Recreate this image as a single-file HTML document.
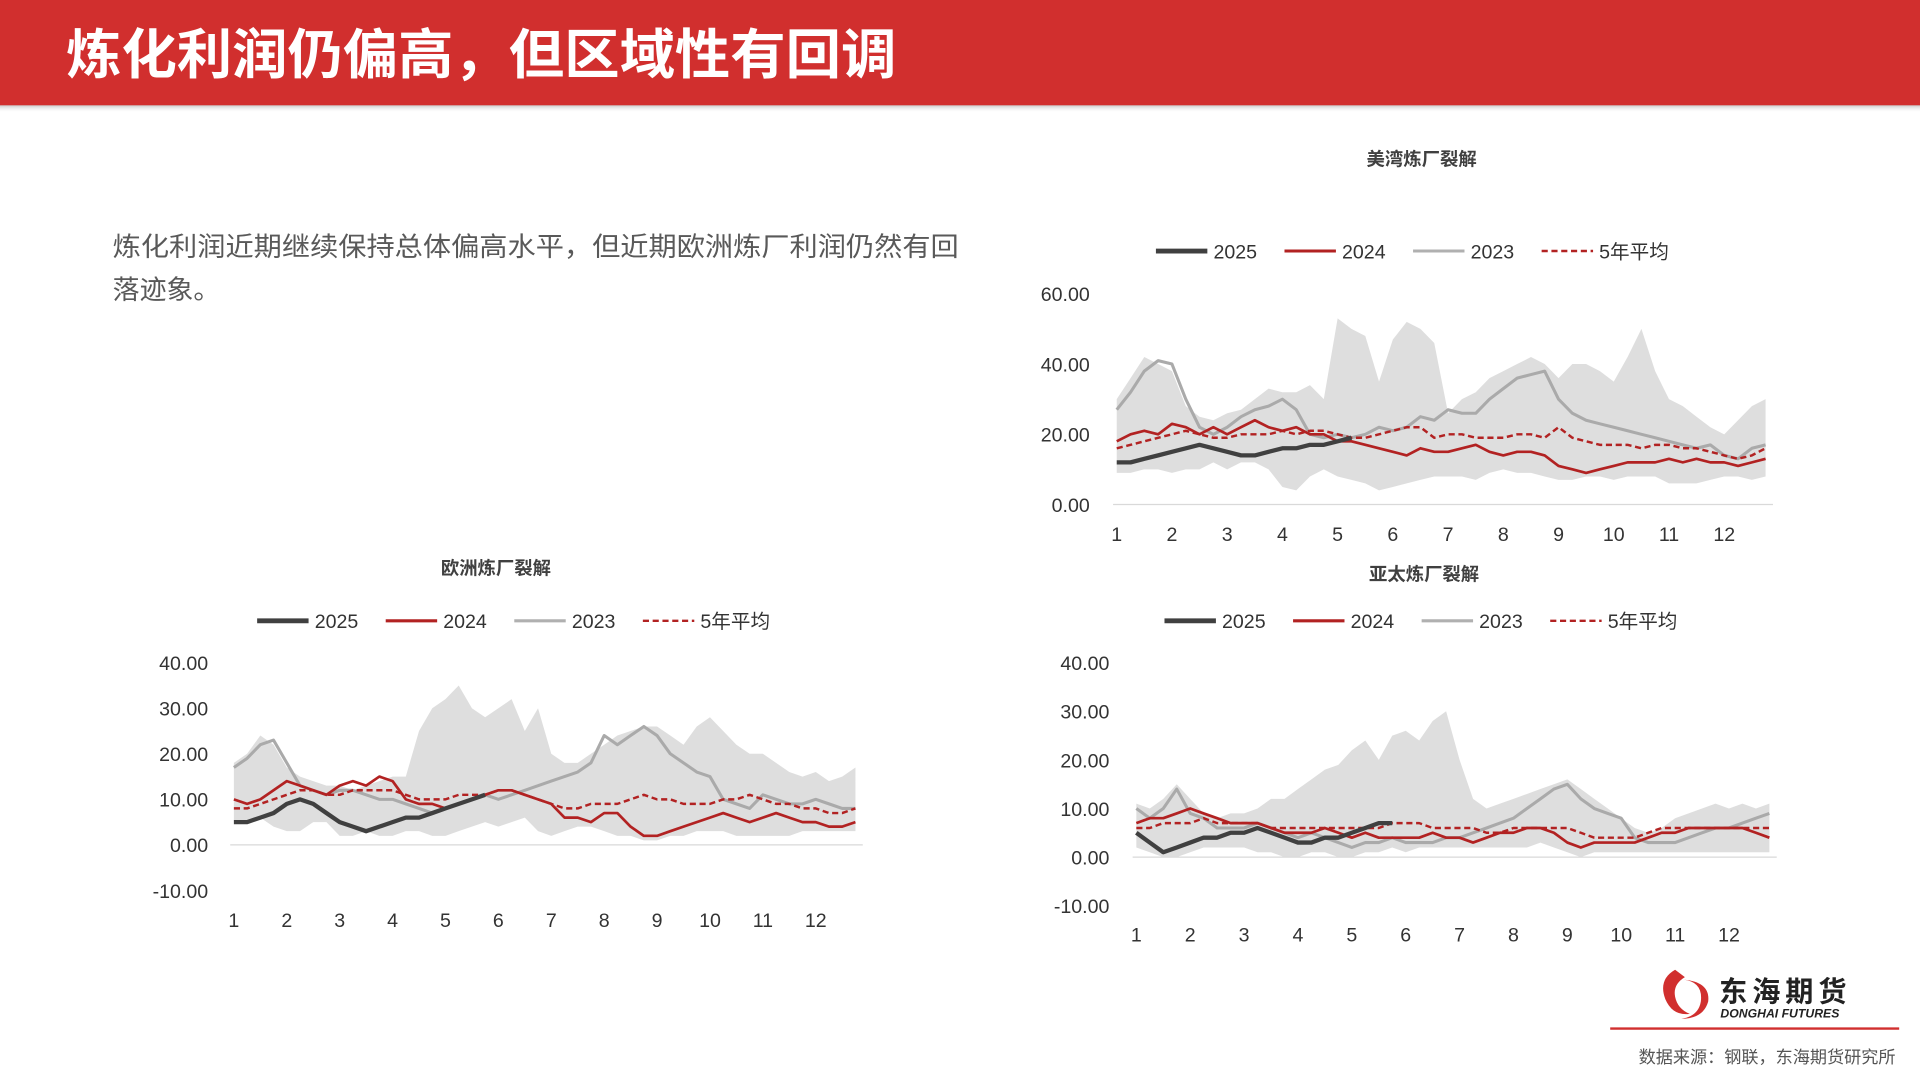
<!DOCTYPE html>
<html><head><meta charset="utf-8"><style>
html,body{margin:0;padding:0;background:#fff;}
svg{display:block;font-family:"Liberation Sans","Noto Sans CJK SC",sans-serif;}
</style></head><body>
<svg id="page" width="1920" height="1080" viewBox="0 0 1568 882" xmlns="http://www.w3.org/2000/svg">
<defs><linearGradient id="sh" x1="0" y1="0" x2="0" y2="1"><stop offset="0" stop-color="#888" stop-opacity="0.6"/><stop offset="1" stop-color="#fff" stop-opacity="0"/></linearGradient></defs>
<rect x="0" y="85" width="1568" height="7" fill="url(#sh)"/>
<rect x="0" y="0" width="1568" height="86" fill="#d12f2e"/>
<text x="54" y="60" font-size="44" font-weight="bold" fill="#fff" textLength="678" lengthAdjust="spacingAndGlyphs">炼化利润仍偏高，但区域性有回调</text>
<text x="92" y="209" font-size="22" fill="#595959" textLength="691" lengthAdjust="spacingAndGlyphs">炼化利润近期继续保持总体偏高水平，但近期欧洲炼厂利润仍然有回</text>
<text x="92" y="244" font-size="22" fill="#595959">落迹象。</text>
<g id="charts"></g>
<g>
<path d="M1368 792 q-14 8 -8 24 q6 14 20 12 q-10 -4 -12 -14 q-2 -10 8 -16 z M1375 800 q16 2 14 18 q-2 12 -16 14 q18 0 22 -14 q2 -16 -20 -18z" fill="#d12f2e"/>
<text x="1404" y="818" font-size="23" font-weight="bold" fill="#222" letter-spacing="4">东海期货</text>
<text x="1405" y="831" font-size="10" font-weight="bold" font-style="italic" fill="#222">DONGHAI FUTURES</text>
</g>
<line x1="1315" y1="840" x2="1551" y2="840" stroke="#d12f2e" stroke-width="2"/>
<text x="1548" y="868" font-size="14" fill="#555" text-anchor="end">数据来源：钢联，东海期货研究所</text>
</svg>
<script>
// ---- US Gulf ----
const usY2023=[27,32,38,41,40,30,22,20,22,25,27,28,30,27,20,19,20,19,20,22,21,22,25,24,27,26,26,30,33,36,37,38,30,26,24,23,22,21,20,19,18,17,16,17,14,13,16,17];
const usY2024=[18,20,21,20,23,22,20,22,20,22,24,22,21,22,20,20,18,18,17,16,15,14,16,15,15,16,17,15,14,15,15,14,11,10,9,10,11,12,12,12,13,12,13,12,12,11,12,13];
const usAvg=[16,17,18,19,20,21,20,19,19,20,20,20,21,20,21,21,20,19,19,20,21,22,22,19,20,20,19,19,19,20,20,19,22,19,18,17,17,17,16,17,17,16,16,15,14,13,14,16];
const usY2025=[12,12,13,14,15,16,17,16,15,14,14,15,16,16,17,17,18,19];
const usHi=[30,36,42,40,38,28,25,24,26,27,30,33,32,32,34,30,53,50,48,35,47,52,50,46,26,30,32,36,38,40,42,40,36,40,40,38,35,42,50,38,30,28,25,22,20,24,28,30];
const usLo=[9,9,10,10,9,10,10,12,10,12,12,10,5,4,8,10,8,7,6,4,5,6,7,8,8,8,7,9,10,9,9,8,7,7,8,8,7,8,8,8,6,6,6,7,8,8,7,8];
const usTicks=["60.00","40.00","20.00","0.00"];
// ---- Europe ----
const euY2023=[17,19,22,23,18,13,12,11,12,12,11,10,10,9,8,7,8,9,10,11,10,11,12,13,14,15,16,18,24,22,24,26,24,20,18,16,15,10,9,8,11,10,9,9,10,9,8,8];
const euY2024=[10,9,10,12,14,13,12,11,13,14,13,15,14,10,9,9,8,9,10,11,12,12,11,10,9,6,6,5,7,7,4,2,2,3,4,5,6,7,6,5,6,7,6,5,5,4,4,5];
const euAvg=[8,8,9,10,11,12,12,11,11,12,12,12,12,11,10,10,10,11,11,11,12,12,11,10,9,8,8,9,9,9,10,11,10,10,9,9,9,10,10,11,10,9,9,8,8,7,7,8];
const euY2025=[5,5,6,7,9,10,9,7,5,4,3,4,5,6,6,7,8,9,10,11];
const euHi=[18,20,24,22,17,15,14,13,13,12,13,14,15,15,25,30,32,35,30,28,30,32,25,30,20,18,18,20,22,24,25,26,26,24,22,26,28,25,22,20,20,18,16,15,16,14,15,17];
const euLo=[5,5,6,4,3,3,5,5,2,2,3,2,2,3,3,2,2,3,4,5,4,5,6,3,2,3,4,4,3,2,2,1,1,2,2,3,3,3,2,2,2,2,2,3,3,3,3,3];
const euTicks=["40.00","30.00","20.00","10.00","0.00","-10.00"];
// ---- Asia ----
const apY2023=[10,8,10,14,9,8,6,6,6,7,6,5,4,5,4,3,2,3,3,4,3,3,3,4,4,5,6,7,8,10,12,14,15,12,10,9,8,4,3,3,3,4,5,6,6,7,8,9];
const apY2024=[7,8,8,9,10,9,8,7,7,7,6,5,5,5,6,5,4,5,4,4,4,4,5,4,4,3,4,5,5,6,6,5,3,2,3,3,3,3,4,5,5,6,6,6,6,6,5,4];
const apAvg=[6,6,7,7,7,8,7,7,7,7,6,6,6,6,6,6,6,6,6,7,7,7,6,6,6,6,5,5,6,6,6,6,6,5,4,4,4,4,5,6,6,6,6,6,6,6,6,6];
const apY2025=[5,3,1,2,3,4,4,5,5,6,5,4,3,3,4,4,5,6,7,7];
const apHi=[11,10,12,15,12,9,8,9,9,10,12,12,14,16,18,19,22,24,20,25,26,24,28,30,20,12,10,11,12,13,14,15,16,14,12,10,8,6,5,6,8,9,10,11,10,11,10,11];
const apLo=[2,1,0,0,1,2,2,2,2,1,1,0,0,1,1,0,0,1,1,2,1,2,2,2,2,2,2,2,2,2,3,2,1,0,1,1,1,1,1,1,1,1,1,1,1,1,1,1];
const apTicks=["40.00","30.00","20.00","10.00","0.00","-10.00"];
const months=["1","2","3","4","5","6","7","8","9","10","11","12"];

const NS="http://www.w3.org/2000/svg";
const root=document.getElementById('charts');
function mk(tag,attrs,parent){const e=document.createElementNS(NS,tag);for(const k in attrs)e.setAttribute(k,attrs[k]);(parent||root).appendChild(e);return e;}

function chart(cfg){
  const g=mk('g',{});
  
  
  const yv=v=>cfg.y0-(v-0)*cfg.py;
  const xm=i=>cfg.x1+(i/4)*cfg.dx;
  const t=mk('text',{x:cfg.tx,y:cfg.ty,'font-size':15,'font-weight':'bold',fill:'#404040','text-anchor':'middle'},g);
  t.textContent=cfg.title;
  
  
  const leg=[["2025","#404040",4,""],["2024","#b22222",2.5,""],["2023","#b0b0b0",2.5,""],["5年平均","#b22222",2,"5,3"]];
  leg.forEach((l,k)=>{
    const lx=cfg.lx+k*105;
    const lg=mk('g',{},g);
    
    
    mk('line',{x1:lx,y1:cfg.ly,x2:lx+42,y2:cfg.ly,stroke:l[1],'stroke-width':l[2],'stroke-dasharray':l[3]},lg);
    const tt=mk('text',{x:lx+47,y:cfg.ly+6,'font-size':16,fill:'#333'},lg);tt.textContent=l[0];
  });
  cfg.ticks.forEach(s=>{
    const tt=mk('text',{x:cfg.ylx,y:yv(parseFloat(s))+6,'font-size':16,fill:'#333','text-anchor':'end'},g);
    tt.textContent=s;
    
    
  });
  months.forEach((m,k)=>{
    const tt=mk('text',{x:cfg.x1+k*cfg.dx,y:cfg.xly,'font-size':16,fill:'#333','text-anchor':'middle'},g);
    tt.textContent=m;
    
    
  });
  let d='';
  cfg.hi.forEach((v,i)=>{d+=(i?'L':'M')+xm(i).toFixed(1)+' '+yv(v).toFixed(1);});
  for(let i=cfg.lo.length-1;i>=0;i--)d+='L'+xm(i).toFixed(1)+' '+yv(cfg.lo[i]).toFixed(1);
  const band=mk('path',{d:d+'Z',fill:'#dedede'},g);
  
  
  mk('line',{x1:cfg.x1-3,y1:yv(0),x2:xm(47)+6,y2:yv(0),stroke:'#d9d9d9','stroke-width':1},g);
  const line=(arr,col,w,dash,name)=>{
    const p=arr.map((v,i)=>(i?'L':'M')+xm(i).toFixed(1)+' '+yv(v).toFixed(1)).join('');
    const e=mk('path',{d:p,fill:'none',stroke:col,'stroke-width':w,'stroke-dasharray':dash,'stroke-linejoin':'round'},g);
    
    
  };
  line(cfg.s23,'#aaaaaa',2.5,'','line-2023');
  line(cfg.s24,'#b22222',2.2,'','line-2024');
  line(cfg.avg,'#b22222',2,'5,3','line-5yr-avg');
  line(cfg.s25,'#404040',3.5,'','line-2025');
}
chart({name:'us-gulf-chart',title:'美湾炼厂裂解',tx:1161,ty:135,lx:944,ly:205,ticks:usTicks,ylx:890,y0:412,py:2.867,x1:912,dx:45.1,xly:442,hi:usHi,lo:usLo,s23:usY2023,s24:usY2024,avg:usAvg,s25:usY2025});
chart({name:'europe-chart',title:'欧洲炼厂裂解',tx:405,ty:469,lx:210,ly:507,ticks:euTicks,ylx:170,y0:690,py:3.72,x1:191,dx:43.2,xly:757,hi:euHi,lo:euLo,s23:euY2023,s24:euY2024,avg:euAvg,s25:euY2025});
chart({name:'asia-pacific-chart',title:'亚太炼厂裂解',tx:1163,ty:474,lx:951,ly:507,ticks:apTicks,ylx:906,y0:700,py:3.97,x1:928,dx:44,xly:769,hi:apHi,lo:apLo,s23:apY2023,s24:apY2024,avg:apAvg,s25:apY2025});
</script>
</body></html>
